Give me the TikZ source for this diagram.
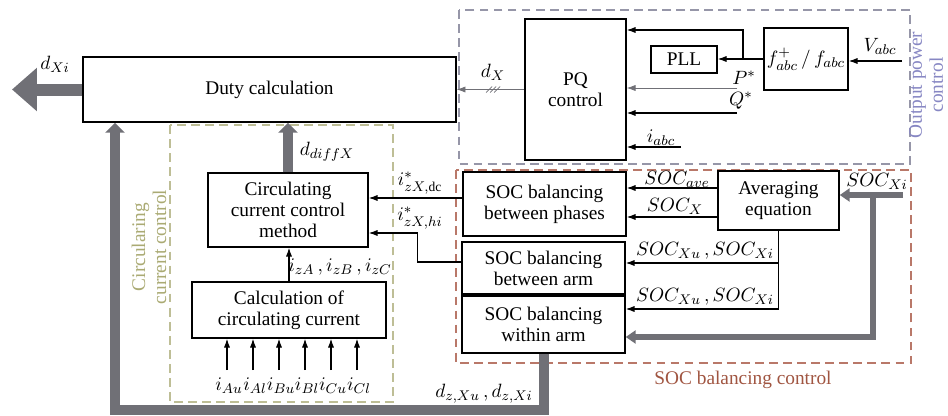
\documentclass[tikz,border=0pt]{standalone}
\usepackage{fontspec}
\setmainfont{Liberation Serif}
\usepackage{amsmath,amssymb}
\usepackage{tikz}
\usetikzlibrary{arrows,arrows.meta,positioning,calc,shapes}

\definecolor{flowgray}{RGB}{112,112,118}
\definecolor{outgrp}{RGB}{150,150,168}
\definecolor{outtxt}{RGB}{135,135,195}
\definecolor{socgrp}{RGB}{185,120,105}
\definecolor{soctxt}{RGB}{160,85,65}
\definecolor{ccgrp}{RGB}{190,190,150}
\definecolor{cctxt}{RGB}{170,170,115}

\tikzset{
  blk/.style={draw,line width=0.85pt,fill=white,align=center,inner sep=1pt},
  sig/.style={-{Latex[length=5pt,width=3.5pt]},line width=0.6pt},
  grp/.style={line width=0.8pt,dash pattern=on 5pt off 3pt},
  bigflow/.style={flowgray,line width=0.2cm,-{Triangle[length=0.2cm,width=0.38cm]}},
  outflow/.style={flowgray,line width=0.24cm,-{Triangle[length=0.5cm,width=0.84cm]}},
  socflow/.style={flowgray,line width=0.12cm,-{Triangle[length=0.2cm,width=0.26cm]}}
}

\begin{document}
\begin{tikzpicture}[x=0.02cm,y=-0.02cm,font=\fontsize{11}{12}\selectfont]
\useasboundingbox (0,0) rectangle (948,416);

% Control groups
\draw[grp,outgrp] (459,10) rectangle (910,164);
\draw[grp,socgrp] (456,170) rectangle (911,363);
\draw[grp,ccgrp] (170,125) rectangle (393,402);
\node[outtxt,rotate=90,align=center] (outlbl) at (926,85) {Output power\\control};
\node[soctxt] (soclbl) at (743,380) {SOC balancing control};
\node[cctxt,rotate=90,align=center] (cclbl) at (149,247) {Circularing\\current control};

% Blocks
\node[blk,minimum width=7.46cm,minimum height=1.3cm] (duty) at (269.5,89.5) {Duty calculation};
\node[blk,minimum width=2.02cm,minimum height=2.82cm] (pq) at (575.5,89.5) {PQ\\control};
\node[blk,minimum width=1.32cm,minimum height=0.54cm] (pll) at (684,59.5) {PLL};
\node[blk,minimum width=1.68cm,minimum height=1.24cm] (fconv) at (806,59) {$f^{+}_{abc}\,/\,f_{abc}$};
\node[blk,minimum width=2.42cm,minimum height=1.18cm] (avg) at (778.5,200.5) {Averaging\\equation};
\node[blk,minimum width=3.26cm,minimum height=1.28cm] (socph) at (544.5,204) {SOC balancing\\between phases};
\node[blk,minimum width=3.26cm,minimum height=1.04cm] (socarm) at (543.5,268) {SOC balancing\\between arm};
\node[blk,minimum width=3.26cm,minimum height=1.14cm] (socwin) at (543.5,324.5) {SOC balancing\\within arm};
\node[blk,minimum width=3.2cm,minimum height=1.48cm] (ccm) at (288,210) {Circulating\\current control\\method};
\node[blk,minimum width=3.88cm,minimum height=1.12cm] (calc) at (289,310) {Calculation of\\circulating current};

% Output of duty calculation
\coordinate (dout) at (12,89.5);
\draw[outflow] (duty.west) -- (dout);
\node (dxilbl) at (55,64) {$d_{Xi}$};

% Output power control
\draw[sig,flowgray,line width=0.4pt] (pq.west) -- (duty.east);
\coordinate (hash) at (493,89.5);
\foreach \k in {-4,0,4}
  \draw[flowgray,line width=0.4pt] ($(hash)+(\k-3,3)$) -- ($(hash)+(\k+3,-3)$);
\node (dxlbl) at (493,72) {$d_X$};

\coordinate (vin) at (902,61);
\draw[sig] (vin) -- (vin -| fconv.east);
\node (vlbl) at (880,46) {$V_{abc}$};
\draw[sig] (fconv.west) -- (fconv.west -| pll.east);
\coordinate (br) at (743,59);
\coordinate (brtop) at (743,30);
\draw[sig] (br) -- (brtop) -- (brtop -| pq.east);
\coordinate (pin) at (737,88);
\draw[sig,flowgray,line width=0.4pt] (pin) -- (pin -| pq.east);
\node (plbl) at (744,78) {$P^{*}$};
\coordinate (qin) at (737,113);
\draw[sig] (qin) -- (qin -| pq.east);
\node (qlbl) at (741,101) {$Q^{*}$};
\coordinate (iin) at (681,147);
\draw[sig] (iin) -- (iin -| pq.east);
\node (ilbl) at (661,138) {$i_{abc}$};

% SOC balancing control
\coordinate (avgo1) at ([yshift=0.25cm]avg.west);
\coordinate (avgo2) at ([yshift=-0.33cm]avg.west);
\draw[sig] (avgo1) -- (avgo1 -| socph.east);
\draw[sig] (avgo2) -- (avgo2 -| socph.east);
\node (avelbl) at (677,179) {$SOC_{ave}$};
\node (soclblx) at (675,206) {$SOC_{X}$};

\coordinate (arm1) at ([yshift=0.1cm]socarm.east);
\coordinate (win1) at ([yshift=0.31cm]socwin.east);
\draw[line width=0.4pt] (avg.south) -- (avg.south |- win1);
\draw[sig] (avg.south |- arm1) -- (arm1);
\draw[sig] (avg.south |- win1) -- (win1);
\node (armlbl) at (705,251) {$SOC_{Xu}\,,SOC_{Xi}$};
\node (winlbl) at (705,297) {$SOC_{Xu}\,,SOC_{Xi}$};

\coordinate (socin) at (903,195);
\coordinate (socbr) at (873,195);
\coordinate (win2) at ([yshift=-0.25cm]socwin.east);
\draw[socflow] (socin) -- (socin -| avg.east);
\draw[socflow] (socbr) |- (win2);
\node (socxilbl) at (877,181) {$SOC_{Xi}$};

% Circulating current control
\coordinate (phl) at ([yshift=0.12cm]socph.west);
\draw[sig] (phl) -- (phl -| ccm.east);
\node (dclbl) at (420,183) {$i^{*}_{zX,\mathrm{dc}}$};
\coordinate (arml) at ([yshift=0.12cm]socarm.west);
\coordinate (hiin) at ([yshift=-0.46cm]ccm.east);
\draw[sig] (arml) -- ++(-44,0) |- (hiin);
\node (hilbl) at (420,218) {$i^{*}_{zX,hi}$};

\draw[bigflow] (ccm.north) -- (ccm.north |- duty.south);
\node (difflbl) at (327,152) {$d_{diffX}$};
\draw[sig] (calc.north) -- (calc.north |- ccm.south);
\node (izlbl) at (340,267) {$i_{zA}\,,i_{zB}\,,i_{zC}$};

\foreach \x/\lbl [count=\n] in {227/Au,253/Al,279/Bu,305/Bl,331/Cu,357/Cl} {
  \coordinate (in\n) at (\x,370);
  \draw[sig] (in\n) -- (in\n |- calc.south);
  \node (inlbl\n) at (\x+2,386) {$i_{\lbl}$};
}

% Duty of the arms back to duty calculation
\coordinate (dzleft) at (115,410);
\draw[bigflow] (socwin.south) |- (dzleft) -- (dzleft |- duty.south);
\node (dzlbl) at (484,394) {$d_{z,Xu}\,,d_{z,Xi}$};
\end{tikzpicture}
\end{document}
